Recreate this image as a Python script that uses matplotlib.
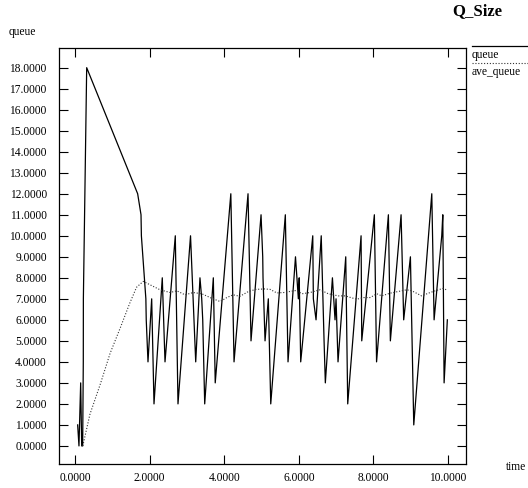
import matplotlib
matplotlib.use("Agg")
import matplotlib.pyplot as plt
from matplotlib.lines import Line2D
from matplotlib.ticker import FormatStrFormatter

plt.rcParams['font.family'] = ['Liberation Serif', 'DejaVu Serif']

# queue trace
queue_t = [0.072, 0.107, 0.153, 0.18, 0.206, 0.223, 0.225, 0.314,
           1.68, 1.77, 1.78, 1.90, 1.91, 1.957, 2.056, 2.118, 2.34, 2.413,
           2.689, 2.761, 3.097, 3.236, 3.35, 3.397, 3.424, 3.477, 3.708, 3.759,
           4.177, 4.263, 4.638, 4.718, 4.987, 5.032, 5.04, 5.094, 5.182, 5.247,
           5.638, 5.71, 5.91, 5.987, 6.01, 6.05, 6.373, 6.389, 6.461, 6.60,
           6.676, 6.71, 6.90, 6.97, 6.997, 7.05, 7.257, 7.31, 7.668, 7.686,
           8.024, 8.083, 8.40, 8.453, 8.74, 8.81, 8.99, 9.08, 9.563, 9.625,
           9.83, 9.858, 9.893, 9.98]
queue_v = [1, 0, 3, 0, 0, 4, 7, 18,
           12, 11, 10, 7, 6, 4, 7, 2, 8, 4,
           10, 2, 10, 4, 8, 7, 6, 2, 8, 3,
           12, 4, 12, 5, 11, 9, 8, 5, 7, 2,
           11, 4, 9, 7, 8, 4, 10, 7, 6, 10,
           5, 3, 8, 6, 7, 4, 9, 2, 10, 5,
           11, 4, 11, 5, 11, 6, 9, 1, 12, 6,
           10, 11, 3, 6]

# average queue trace
ave_t = [0.21, 0.40, 0.69, 0.94, 1.21, 1.47, 1.65, 1.83, 2.01, 2.28, 2.55,
         2.73, 2.95, 3.17, 3.40, 3.66, 3.89, 4.07, 4.24, 4.42, 4.65, 4.85,
         5.08, 5.23, 5.41, 5.60, 5.76, 5.94, 6.08, 6.30, 6.57, 6.79, 7.06,
         7.24, 7.55, 7.73, 7.91, 8.09, 8.22, 8.45, 8.67, 8.89, 9.03, 9.29,
         9.52, 9.74, 9.87, 9.99]
ave_v = [0.0, 1.5, 3.0, 4.4, 5.6, 6.8, 7.55, 7.83, 7.67, 7.43, 7.3,
         7.38, 7.19, 7.3, 7.24, 7.03, 6.87, 7.06, 7.19, 7.12, 7.35, 7.45,
         7.47, 7.45, 7.28, 7.3, 7.35, 7.4, 7.24, 7.3, 7.43, 7.24, 7.14,
         7.14, 6.98, 7.06, 7.06, 7.24, 7.14, 7.27, 7.35, 7.43, 7.38, 7.14,
         7.3, 7.43, 7.5, 7.4]

x_ticks = [0, 2, 4, 6, 8, 10]
y_ticks = list(range(0, 19))

W, H = 528, 488
fig = plt.figure(figsize=(W / 100, H / 100), dpi=100)
ax = fig.add_axes([59.3 / W, 1 - 464 / H, (466 - 59.3) / W, (464 - 47.7) / H])

ax.plot(queue_t, queue_v, color='black', linewidth=0.9)
ax.plot(ave_t, ave_v, color='#333333', linewidth=0.8, linestyle=(0, (1, 1.6)))

ax.set_xlim(-0.42, 10.48)
ax.set_ylim(-0.86, 18.95)
ax.set_xticks(x_ticks)
ax.set_yticks(y_ticks)
ax.xaxis.set_major_formatter(FormatStrFormatter('%.4f'))
ax.yaxis.set_major_formatter(FormatStrFormatter('%.4f'))
ax.tick_params(axis='both', direction='in', length=6.5, width=0.8,
               top=True, right=True, labelsize=8.3, colors='black')
ax.tick_params(axis='y', pad=9)
ax.tick_params(axis='x', pad=6)
for s in ax.spines.values():
    s.set_linewidth(0.9)

fig.text(477 / W, 1 - 11 / H, 'Q_Size', ha='center', va='center',
         fontsize=12, fontweight='bold')
fig.text(9 / W, 1 - 32 / H, 'queue', ha='left', va='center', fontsize=8.3)
fig.text(506 / W, 1 - 467 / H, 'time', ha='left', va='center', fontsize=8.3)

# legend (outside right)
fig.add_artist(Line2D([471.7 / W, 1.0], [1 - 46 / H] * 2, transform=fig.transFigure,
                      color='black', linewidth=0.9))
fig.text(472 / W, 1 - 55 / H, 'queue', ha='left', va='center', fontsize=8.3)
fig.add_artist(Line2D([471.7 / W, 1.0], [1 - 63.3 / H] * 2, transform=fig.transFigure,
                      color='#333333', linewidth=0.8, linestyle=(0, (1, 1.6))))
fig.text(472 / W, 1 - 71.7 / H, 'ave_queue', ha='left', va='center', fontsize=8.3)

fig.savefig('out.png', dpi=100)
